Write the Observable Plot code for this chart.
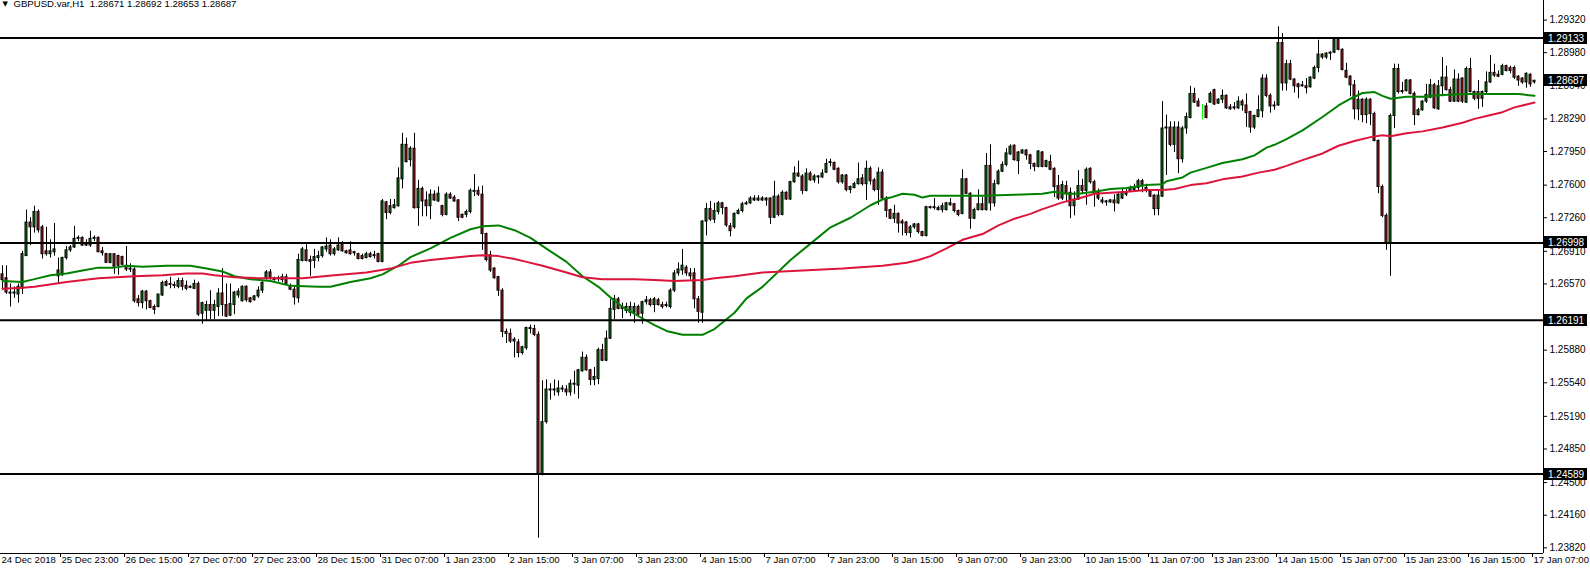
<!DOCTYPE html>
<html><head><meta charset="utf-8">
<script src="https://cdn.jsdelivr.net/npm/d3@7"></script>
<script src="https://cdn.jsdelivr.net/npm/@observablehq/plot@0.6"></script>
<style>body{margin:0;background:#fff;overflow:hidden}</style>
</head><body><div id="chart"></div>
<script>
const symbol = "GBPUSD.var,H1";
const xTickBars = [0,15,31,47,63,79,95,111,127,143,159,175,191,207,223,239,255,271,287,303,319,335,351,367,383];
const xTickLabels = ["24 Dec 2018","25 Dec 23:00","26 Dec 15:00","27 Dec 07:00","27 Dec 23:00","28 Dec 15:00","31 Dec 07:00","1 Jan 23:00","2 Jan 15:00","3 Jan 07:00","3 Jan 23:00","4 Jan 15:00","7 Jan 07:00","7 Jan 23:00","8 Jan 15:00","9 Jan 07:00","9 Jan 23:00","10 Jan 15:00","11 Jan 07:00","13 Jan 23:00","14 Jan 15:00","15 Jan 07:00","15 Jan 23:00","16 Jan 15:00","17 Jan 07:00"];
const yTicks = [1.2932,1.2898,1.2864,1.2829,1.2795,1.2760,1.2726,1.2691,1.2657,1.2588,1.2554,1.2519,1.2485,1.2450,1.2416,1.2382];
const levels = [1.29133,1.26998,1.26191,1.24589];

const open = [
1.2667,1.2663,1.2648,1.2647,1.2646,1.2652,1.2686,1.2721,1.2716,1.2732,1.2716,1.2691,1.2688,1.2690,1.2665,1.2666,
1.2684,1.2692,1.2695,1.2704,1.2705,1.2699,1.2697,1.2704,1.2705,1.2691,1.2688,1.2679,1.2688,1.2686,1.2685,1.2676,
1.2672,1.2672,1.2641,1.2637,1.2649,1.2639,1.2633,1.2633,1.2645,1.2659,1.2656,1.2656,1.2654,1.2660,1.2655,1.2653,
1.2652,1.2657,1.2626,1.2629,1.2635,1.2629,1.2633,1.2647,1.2635,1.2624,1.2635,1.2645,1.2639,1.2654,1.2642,1.2640,
1.2644,1.2650,1.2663,1.2669,1.2663,1.2662,1.2664,1.2664,1.2654,1.2651,1.2642,1.2681,1.2692,1.2682,1.2681,1.2684,
1.2686,1.2693,1.2697,1.2688,1.2692,1.2698,1.2691,1.2692,1.2689,1.2688,1.2686,1.2684,1.2688,1.2686,1.2688,1.2680,
1.2742,1.2731,1.2736,1.2738,1.2766,1.2802,1.2786,1.2798,1.2736,1.2756,1.2744,1.2738,1.2750,1.2743,1.2738,1.2729,
1.2750,1.2747,1.2744,1.2729,1.2729,1.2732,1.2753,1.2754,1.2750,1.2709,1.2687,1.2673,1.2664,1.2650,1.2607,1.2605,
1.2599,1.2596,1.2585,1.2590,1.2611,1.2610,1.2604,1.2458,1.2513,1.2547,1.2546,1.2544,1.2547,1.2547,1.2544,1.2553,
1.2551,1.2566,1.2580,1.2567,1.2557,1.2558,1.2588,1.2577,1.2600,1.2630,1.2641,1.2631,1.2633,1.2627,1.2627,1.2633,
1.2626,1.2638,1.2640,1.2635,1.2640,1.2635,1.2634,1.2633,1.2650,1.2668,1.2671,1.2674,1.2668,1.2668,1.2641,1.2627,
1.2722,1.2735,1.2724,1.2732,1.2741,1.2736,1.2717,1.2716,1.2730,1.2733,1.2740,1.2741,1.2746,1.2744,1.2746,1.2744,
1.2746,1.2726,1.2748,1.2729,1.2752,1.2745,1.2763,1.2772,1.2769,1.2754,1.2772,1.2765,1.2768,1.2768,1.2773,1.2783,
1.2783,1.2777,1.2763,1.2770,1.2755,1.2757,1.2761,1.2767,1.2761,1.2777,1.2765,1.2755,1.2773,1.2746,1.2734,1.2725,
1.2730,1.2722,1.2721,1.2710,1.2716,1.2719,1.2711,1.2707,1.2737,1.2736,1.2736,1.2734,1.2734,1.2741,1.2740,1.2733,
1.2730,1.2766,1.2751,1.2725,1.2734,1.2740,1.2734,1.2780,1.2741,1.2761,1.2774,1.2781,1.2792,1.2801,1.2785,1.2793,
1.2796,1.2791,1.2782,1.2779,1.2794,1.2779,1.2784,1.2777,1.2759,1.2746,1.2759,1.2752,1.2738,1.2745,1.2759,1.2754,
1.2777,1.2763,1.2752,1.2744,1.2743,1.2742,1.2744,1.2741,1.2746,1.2752,1.2754,1.2755,1.2757,1.2764,1.2757,1.2753,
1.2749,1.2735,1.2748,1.2819,1.2820,1.2802,1.2820,1.2787,1.2819,1.2830,1.2855,1.2847,1.2842,1.2842,1.2846,1.2859,
1.2845,1.2849,1.2853,1.2841,1.2840,1.2840,1.2847,1.2843,1.2836,1.2820,1.2831,1.2837,1.2871,1.2853,1.2842,1.2843,
1.2908,1.2866,1.2886,1.2870,1.2865,1.2863,1.2863,1.2862,1.2871,1.2882,1.2896,1.2893,1.2897,1.2898,1.2911,1.2901,
1.2879,1.2873,1.2864,1.2839,1.2849,1.2833,1.2849,1.2834,1.2806,1.2758,1.2728,1.2699,1.2832,1.2881,1.2858,1.2858,
1.2869,1.2855,1.2833,1.2838,1.2847,1.2851,1.2864,1.2839,1.2863,1.2872,1.2859,1.2847,1.2870,1.2871,1.2846,1.2881,
1.2857,1.2857,1.2850,1.2857,1.2867,1.2877,1.2875,1.2875,1.2884,1.2882,1.2882,1.2873,1.2871,1.2867,1.2875,1.28671];

const high = [
1.2676,1.2676,1.2657,1.2654,1.2657,1.2691,1.2734,1.2726,1.2738,1.2734,1.2718,1.2716,1.2703,1.2720,1.2684,1.2685,
1.2696,1.2697,1.2717,1.2707,1.2706,1.2703,1.2712,1.2707,1.2706,1.2695,1.2689,1.2688,1.2688,1.2687,1.2686,1.2696,
1.2678,1.2674,1.2645,1.2650,1.2650,1.2640,1.2635,1.2646,1.2660,1.2661,1.2664,1.2659,1.2663,1.2663,1.2660,1.2655,
1.2661,1.2659,1.2638,1.2639,1.2650,1.2640,1.2652,1.2673,1.2657,1.2657,1.2649,1.2652,1.2655,1.2655,1.2643,1.2645,
1.2654,1.2660,1.2671,1.2672,1.2664,1.2665,1.2667,1.2667,1.2657,1.2654,1.2688,1.2695,1.2698,1.2686,1.2693,1.2691,
1.2696,1.2705,1.2703,1.2695,1.2705,1.2701,1.2692,1.2701,1.2691,1.2689,1.2688,1.2690,1.2690,1.2691,1.2689,1.2745,
1.2743,1.2745,1.2745,1.2778,1.2814,1.2809,1.2800,1.2814,1.2765,1.2758,1.2753,1.2755,1.2754,1.2758,1.2739,1.2752,
1.2752,1.2749,1.2745,1.2730,1.2734,1.2756,1.2771,1.2758,1.2759,1.2710,1.2691,1.2674,1.2665,1.2652,1.2610,1.2610,
1.2601,1.2599,1.2592,1.2612,1.2614,1.2614,1.2607,1.2556,1.2557,1.2553,1.2557,1.2556,1.2551,1.2551,1.2557,1.2566,
1.2568,1.2586,1.2583,1.2568,1.2570,1.2590,1.2594,1.2608,1.2641,1.2645,1.2643,1.2637,1.2637,1.2638,1.2637,1.2635,
1.2639,1.2644,1.2642,1.2643,1.2642,1.2638,1.2638,1.2652,1.2671,1.2679,1.2693,1.2676,1.2673,1.2673,1.2644,1.2723,
1.2741,1.2743,1.2741,1.2743,1.2742,1.2737,1.2720,1.2731,1.2735,1.2742,1.2743,1.2748,1.2749,1.2749,1.2748,1.2747,
1.2747,1.2764,1.2750,1.2754,1.2753,1.2764,1.2779,1.2785,1.2771,1.2777,1.2774,1.2771,1.2770,1.2776,1.2787,1.2787,
1.2784,1.2778,1.2771,1.2771,1.2759,1.2763,1.2783,1.2771,1.2785,1.2779,1.2767,1.2778,1.2776,1.2748,1.2735,1.2739,
1.2731,1.2724,1.2722,1.2718,1.2720,1.2720,1.2712,1.2738,1.2738,1.2746,1.2738,1.2741,1.2742,1.2746,1.2741,1.2734,
1.2776,1.2767,1.2752,1.2736,1.2755,1.2747,1.2793,1.2802,1.2765,1.2776,1.2784,1.2798,1.2802,1.2802,1.2795,1.2797,
1.2797,1.2792,1.2783,1.2796,1.2795,1.2786,1.2791,1.2778,1.2770,1.2764,1.2764,1.2757,1.2753,1.2775,1.2766,1.2778,
1.2778,1.2765,1.2756,1.2747,1.2744,1.2745,1.2750,1.2751,1.2756,1.2756,1.2759,1.2761,1.2766,1.2766,1.2761,1.2755,
1.2750,1.2755,1.2847,1.2833,1.2826,1.2826,1.2826,1.2821,1.2835,1.2863,1.2861,1.2850,1.2844,1.2845,1.2857,1.2860,
1.2850,1.2859,1.2854,1.2844,1.2846,1.2852,1.2849,1.2855,1.2837,1.2833,1.2853,1.2875,1.2875,1.2855,1.2847,1.2925,
1.2918,1.2890,1.2890,1.2871,1.2866,1.2868,1.2871,1.2873,1.2884,1.2911,1.2897,1.2898,1.2899,1.2913,1.2912,1.2902,
1.2887,1.2874,1.2869,1.2858,1.2850,1.2851,1.2850,1.2836,1.2807,1.2760,1.2730,1.2834,1.2886,1.2886,1.2867,1.2870,
1.2870,1.2857,1.2840,1.2848,1.2865,1.2870,1.2866,1.2869,1.2893,1.2884,1.2862,1.2880,1.2876,1.2872,1.2883,1.2892,
1.2858,1.2869,1.2858,1.2878,1.2895,1.2886,1.2879,1.2886,1.2885,1.2884,1.2884,1.2874,1.2872,1.2877,1.2876,1.28692];

const low = [
1.2650,1.2646,1.2633,1.2642,1.2637,1.2646,1.2686,1.2697,1.2710,1.2710,1.2683,1.2686,1.2684,1.2686,1.2657,1.2665,
1.2682,1.2690,1.2694,1.2701,1.2696,1.2696,1.2695,1.2701,1.2690,1.2686,1.2679,1.2678,1.2667,1.2666,1.2676,1.2670,
1.2669,1.2637,1.2633,1.2631,1.2630,1.2631,1.2625,1.2632,1.2644,1.2654,1.2652,1.2652,1.2652,1.2650,1.2650,1.2652,
1.2651,1.2623,1.2615,1.2619,1.2620,1.2620,1.2623,1.2623,1.2622,1.2623,1.2625,1.2642,1.2638,1.2638,1.2637,1.2639,
1.2642,1.2647,1.2661,1.2661,1.2660,1.2659,1.2658,1.2656,1.2650,1.2635,1.2637,1.2680,1.2680,1.2665,1.2673,1.2680,
1.2684,1.2690,1.2686,1.2686,1.2691,1.2690,1.2688,1.2687,1.2686,1.2682,1.2682,1.2683,1.2684,1.2683,1.2679,1.2679,
1.2724,1.2729,1.2735,1.2737,1.2756,1.2783,1.2779,1.2735,1.2717,1.2727,1.2727,1.2724,1.2743,1.2742,1.2727,1.2728,
1.2745,1.2742,1.2722,1.2725,1.2726,1.2730,1.2748,1.2748,1.2692,1.2680,1.2669,1.2662,1.2644,1.2601,1.2595,1.2595,
1.2580,1.2580,1.2583,1.2588,1.2605,1.2602,1.2392,1.2457,1.2511,1.2536,1.2540,1.2540,1.2544,1.2540,1.2540,1.2542,
1.2537,1.2565,1.2566,1.2551,1.2551,1.2552,1.2576,1.2576,1.2599,1.2620,1.2630,1.2621,1.2626,1.2623,1.2616,1.2623,
1.2615,1.2635,1.2633,1.2627,1.2634,1.2631,1.2632,1.2631,1.2648,1.2665,1.2666,1.2665,1.2661,1.2631,1.2616,1.2616,
1.2707,1.2722,1.2720,1.2729,1.2729,1.2716,1.2706,1.2714,1.2729,1.2731,1.2739,1.2740,1.2743,1.2743,1.2743,1.2738,
1.2719,1.2725,1.2727,1.2728,1.2744,1.2744,1.2762,1.2768,1.2750,1.2753,1.2764,1.2762,1.2761,1.2767,1.2772,1.2779,
1.2775,1.2761,1.2761,1.2753,1.2751,1.2756,1.2760,1.2759,1.2744,1.2760,1.2753,1.2739,1.2745,1.2726,1.2724,1.2720,
1.2710,1.2707,1.2707,1.2705,1.2714,1.2709,1.2706,1.2706,1.2735,1.2734,1.2733,1.2731,1.2733,1.2738,1.2731,1.2727,
1.2729,1.2750,1.2714,1.2724,1.2733,1.2733,1.2733,1.2733,1.2737,1.2760,1.2773,1.2779,1.2791,1.2785,1.2771,1.2792,
1.2786,1.2776,1.2774,1.2778,1.2778,1.2778,1.2775,1.2747,1.2744,1.2744,1.2743,1.2725,1.2728,1.2744,1.2750,1.2739,
1.2761,1.2737,1.2744,1.2740,1.2738,1.2741,1.2732,1.2740,1.2745,1.2748,1.2752,1.2753,1.2754,1.2752,1.2752,1.2747,
1.2728,1.2728,1.2747,1.2770,1.2800,1.2794,1.2772,1.2783,1.2813,1.2829,1.2845,1.2841,1.2828,1.2829,1.2845,1.2843,
1.2844,1.2845,1.2839,1.2838,1.2838,1.2839,1.2837,1.2820,1.2814,1.2818,1.2830,1.2830,1.2851,1.2835,1.2838,1.2842,
1.2858,1.2858,1.2869,1.2856,1.2850,1.2862,1.2855,1.2861,1.2870,1.2877,1.2891,1.2891,1.2890,1.2897,1.2900,1.2879,
1.2871,1.2852,1.2828,1.2827,1.2825,1.2824,1.2822,1.2805,1.2751,1.2726,1.2692,1.2665,1.2819,1.2855,1.2855,1.2857,
1.2854,1.2822,1.2832,1.2837,1.2845,1.2850,1.2839,1.2838,1.2852,1.2858,1.2846,1.2846,1.2846,1.2845,1.2845,1.2856,
1.2848,1.2839,1.2841,1.2855,1.2866,1.2872,1.2872,1.2874,1.2878,1.2876,1.2870,1.2863,1.2865,1.2861,1.2862,1.28653];

const close = [
1.2661,1.2648,1.2647,1.2648,1.2654,1.2688,1.2721,1.2716,1.2732,1.2713,1.2688,1.2688,1.2691,1.2693,1.2671,1.2684,
1.2692,1.2695,1.2704,1.2705,1.2697,1.2697,1.2704,1.2705,1.2690,1.2689,1.2679,1.2688,1.2675,1.2676,1.2677,1.2672,
1.2673,1.2639,1.2637,1.2649,1.2639,1.2632,1.2630,1.2646,1.2658,1.2655,1.2657,1.2655,1.2660,1.2654,1.2652,1.2654,
1.2657,1.2625,1.2637,1.2635,1.2629,1.2635,1.2647,1.2635,1.2623,1.2636,1.2648,1.2649,1.2654,1.2640,1.2638,1.2644,
1.2650,1.2658,1.2669,1.2663,1.2661,1.2663,1.2661,1.2657,1.2651,1.2643,1.2682,1.2693,1.2681,1.2680,1.2685,1.2686,
1.2695,1.2696,1.2688,1.2693,1.2697,1.2691,1.2689,1.2688,1.2690,1.2683,1.2683,1.2688,1.2685,1.2687,1.2680,1.2743,
1.2731,1.2738,1.2739,1.2767,1.2802,1.2784,1.2798,1.2736,1.2756,1.2743,1.2738,1.2750,1.2744,1.2751,1.2729,1.2750,
1.2746,1.2743,1.2726,1.2726,1.2732,1.2754,1.2754,1.2750,1.2709,1.2682,1.2671,1.2663,1.2650,1.2607,1.2605,1.2597,
1.2597,1.2585,1.2591,1.2611,1.2610,1.2604,1.2458,1.2513,1.2547,1.2546,1.2547,1.2548,1.2548,1.2544,1.2553,1.2552,
1.2567,1.2580,1.2567,1.2557,1.2560,1.2588,1.2577,1.2600,1.2631,1.2641,1.2631,1.2632,1.2629,1.2633,1.2633,1.2625,
1.2638,1.2640,1.2635,1.2641,1.2635,1.2633,1.2635,1.2650,1.2668,1.2672,1.2676,1.2668,1.2665,1.2641,1.2628,1.2722,
1.2735,1.2724,1.2733,1.2741,1.2736,1.2718,1.2712,1.2730,1.2733,1.2740,1.2741,1.2746,1.2744,1.2746,1.2744,1.2746,
1.2726,1.2748,1.2729,1.2752,1.2745,1.2763,1.2772,1.2769,1.2754,1.2772,1.2765,1.2769,1.2769,1.2772,1.2782,1.2784,
1.2776,1.2763,1.2770,1.2755,1.2758,1.2761,1.2766,1.2761,1.2777,1.2764,1.2755,1.2773,1.2746,1.2733,1.2725,1.2730,
1.2720,1.2720,1.2710,1.2716,1.2719,1.2711,1.2707,1.2737,1.2736,1.2737,1.2734,1.2738,1.2741,1.2739,1.2733,1.2729,
1.2766,1.2751,1.2725,1.2734,1.2740,1.2734,1.2780,1.2741,1.2761,1.2774,1.2781,1.2793,1.2800,1.2786,1.2794,1.2796,
1.2791,1.2782,1.2779,1.2795,1.2779,1.2785,1.2776,1.2758,1.2746,1.2760,1.2751,1.2738,1.2745,1.2759,1.2754,1.2776,
1.2763,1.2751,1.2746,1.2742,1.2742,1.2744,1.2741,1.2750,1.2752,1.2750,1.2757,1.2757,1.2764,1.2759,1.2754,1.2748,
1.2735,1.2749,1.2819,1.2820,1.2802,1.2820,1.2787,1.2819,1.2831,1.2855,1.2846,1.2842,1.2842,1.2830,1.2855,1.2844,
1.2849,1.2853,1.2840,1.2839,1.2841,1.2847,1.2843,1.2835,1.2820,1.2832,1.2838,1.2871,1.2853,1.2842,1.2843,1.2908,
1.2866,1.2886,1.2870,1.2863,1.2862,1.2864,1.2861,1.2872,1.2882,1.2896,1.2893,1.2897,1.2898,1.2911,1.2901,1.2880,
1.2872,1.2864,1.2839,1.2849,1.2833,1.2849,1.2834,1.2806,1.2758,1.2728,1.2699,1.2832,1.2881,1.2857,1.2857,1.2869,
1.2855,1.2833,1.2838,1.2847,1.2854,1.2864,1.2840,1.2863,1.2872,1.2859,1.2847,1.2870,1.2847,1.2847,1.2881,1.2857,
1.2850,1.2850,1.2857,1.2867,1.2877,1.2874,1.2873,1.2884,1.2879,1.2879,1.2872,1.2869,1.2867,1.2876,1.2865,1.28687];

const greenMaBar = [0,5,8,12,16,20,24,28,31,35,41,47,51,55,58,62,67,72,79,82,87,92,95,99,102,107,112,117,120,124,128,132,137,141,145,149,152,155,160,163,166,170,175,178,183,186,190,197,202,207,212,217,220,222,225,228,230,232,245,253,260,263,266,269,273,277,281,286,290,291,295,297,301,305,310,313,316,318,321,325,330,334,337,340,343,345,347,351,355,360,366,370,375,379,381,383];
const greenMa = [1.2660,1.2659,1.2662,1.2666,1.2668,1.2671,1.2674,1.2674,1.2676,1.2675,1.2676,1.2676,1.2673,1.2670,1.2665,1.2662,1.2660,1.2655,1.2654,1.2654,1.2659,1.2663,1.2667,1.2676,1.2685,1.2694,1.2705,1.2714,1.2717,1.2718,1.2713,1.2705,1.2691,1.2680,1.2665,1.2654,1.2643,1.2633,1.2621,1.2614,1.2608,1.2604,1.2604,1.2610,1.2627,1.2642,1.2654,1.2682,1.2699,1.2716,1.2726,1.2739,1.2745,1.2747,1.2751,1.2750,1.2747,1.2749,1.2749,1.2750,1.2751,1.2753,1.2751,1.2751,1.2753,1.2756,1.2757,1.2760,1.2761,1.2764,1.2768,1.2773,1.2778,1.2783,1.2787,1.2791,1.2799,1.2802,1.2808,1.2817,1.2831,1.2843,1.2850,1.2856,1.2857,1.2853,1.2850,1.2852,1.2852,1.2854,1.2855,1.2855,1.2855,1.2855,1.2854,1.2853];
const redMaBar = [0,5,8,16,24,33,40,46,50,53,58,64,70,75,83,91,97,102,107,112,117,120,124,128,131,135,141,145,150,158,163,168,175,178,183,190,200,210,220,226,229,232,236,240,245,249,253,257,260,265,269,273,277,281,286,290,293,297,301,305,310,314,318,321,325,330,334,338,342,345,347,351,355,360,365,368,371,375,378,381,383];
const redMa = [1.2652,1.2653,1.2654,1.2659,1.2663,1.2665,1.2666,1.2668,1.2668,1.2666,1.2664,1.2663,1.2663,1.2663,1.2666,1.2669,1.2673,1.2679,1.2682,1.2684,1.2686,1.2687,1.2686,1.2683,1.2680,1.2676,1.2669,1.2664,1.2662,1.2662,1.2661,1.2660,1.2661,1.2663,1.2665,1.2669,1.2671,1.2673,1.2676,1.2679,1.2682,1.2686,1.2694,1.2703,1.2709,1.2718,1.2725,1.2730,1.2735,1.2742,1.2746,1.2751,1.2752,1.2753,1.2755,1.2755,1.2756,1.2760,1.2762,1.2766,1.2769,1.2773,1.2776,1.2780,1.2786,1.2793,1.2801,1.2806,1.2810,1.2812,1.2811,1.2814,1.2816,1.2820,1.2825,1.2829,1.2832,1.2836,1.2841,1.2844,1.2846];

const bars = open.map((o, i) => ({i, open: o, high: high[i], low: low[i], close: close[i]}));
const isDoji = d => d.open === d.close;
const bodyFill = d => isDoji(d) ? "#00ff00" : (d.close > d.open ? "#0a7a0a" : "#b0141c");
const edge = d => isDoji(d) ? "#00ff00" : "#000000";
const greenLine = greenMaBar.map((b, k) => ({b, v: greenMa[k]}));
const redLine = redMaBar.map((b, k) => ({b, v: redMa[k]}));
const last = bars.length - 1;
const titleText = `${symbol}  ${open[last].toFixed(5)} ${high[last].toFixed(5)} ${low[last].toFixed(5)} ${close[last].toFixed(5)}`;
const labelOf = new Map(xTickBars.map((b, k) => [b, xTickLabels[k]]));

const xDomain = [-0.5, 385.25];
const yDomain = [1.23761, 1.295238];
const FONT = "'Liberation Sans', Arial, sans-serif";

const plot = Plot.plot({
  width: 1590, height: 571,
  marginTop: 0, marginRight: 47, marginBottom: 18, marginLeft: 0,
  style: {fontFamily: FONT, fontSize: "10px", background: "#ffffff", color: "#000000", overflow: "visible"},
  x: {type: "linear", domain: xDomain, axis: null},
  y: {type: "linear", domain: yDomain, axis: null},
  color: {type: "identity"},
  marks: [
    Plot.ruleX(bars, {x: "i", y1: "low", y2: "high", stroke: edge, strokeWidth: 1}),
    Plot.rect(bars, {x1: d => d.i - 0.25, x2: d => d.i + 0.25, y1: "open", y2: "close", fill: bodyFill, stroke: edge, strokeWidth: 1}),
    Plot.line(greenLine, {x: "b", y: "v", stroke: "#008000", strokeWidth: 2}),
    Plot.line(redLine, {x: "b", y: "v", stroke: "#dc143c", strokeWidth: 2}),
    Plot.ruleY(levels, {stroke: "#000000", strokeWidth: 2}),
    Plot.ruleX([xDomain[1]], {stroke: "#000000", strokeWidth: 1}),
    Plot.ruleY([yDomain[0]], {stroke: "#000000", strokeWidth: 1}),
    Plot.axisY({ticks: yTicks, anchor: "right", tickSize: 3, tickPadding: 3, tickFormat: d => d.toFixed(5), fontSize: 10, label: null}),
    Plot.axisX({ticks: xTickBars.slice(1), anchor: "bottom", tickSize: 4, text: null, dx: -2, label: null}),
    Plot.axisX({ticks: xTickBars, anchor: "bottom", tickSize: 0, tickPadding: 3, tickFormat: d => labelOf.get(d), textAnchor: "start", dx: -1, fontSize: 9.6, label: null}),
    Plot.text(["\u25BC"], {frameAnchor: "top-left", text: d => d, dx: 2, dy: 1, textAnchor: "start", lineAnchor: "top", fontSize: 7, fontFamily: "DejaVu Sans"}),
    Plot.text([titleText], {frameAnchor: "top-left", text: d => d, dx: 13, dy: 0, textAnchor: "start", lineAnchor: "top", fontSize: 9.6})
  ]
});

const svg = d3.select(plot);
const ys = plot.scale("y");
const xr = plot.scale("x").range;
const boxes = [...levels, close[last]];
for (const v of boxes) {
  const yy = Math.round(ys.apply(v));
  const g = svg.append("g");
  g.append("rect").attr("x", xr[1] + 1).attr("y", yy - 6).attr("width", 43).attr("height", 12).attr("fill", "#000");
  g.append("text").attr("x", xr[1] + 5).attr("y", yy).attr("dy", "0.35em").attr("fill", "#fff")
    .attr("text-anchor", "start").attr("font-size", 10).attr("font-family", FONT).text(v.toFixed(5));
}
document.getElementById("chart").append(plot);
</script>
</body></html>
